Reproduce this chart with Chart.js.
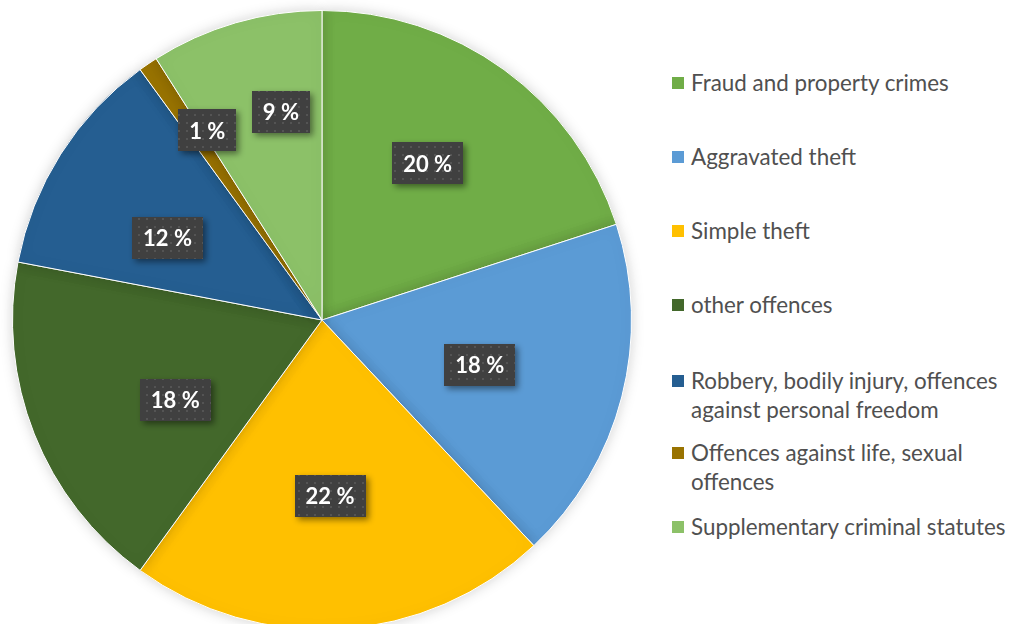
<!DOCTYPE html>
<html>
<head>
<meta charset="utf-8">
<script src="https://cdn.jsdelivr.net/npm/chart.js@4.4.1/dist/chart.umd.min.js"></script>
<style>
  html, body { margin: 0; padding: 0; background: #fff; overflow: hidden; }
  body { width: 1010px; height: 624px; position: relative; }
  #pieWrap { position: absolute; left: 0; top: 0; width: 644px; height: 640px; }
  #legend { position: absolute; left: 0; top: 0; }
  .lg-item { position: absolute; left: 672px; font-family: Lato, "Open Sans", sans-serif; font-size: 22.4px; line-height: 29px; color: #505050; white-space: pre; }
  .lg-box { position: absolute; left: 0; top: 9px; width: 12px; height: 12px; }
  .lg-text { margin-left: 19px; }
</style>
</head>
<body>
<div id="pieWrap"><canvas id="pieChart"></canvas></div>
<div id="legend"></div>
<script>
// ---- Veriler ----
const categories = [
  "Fraud and property crimes",
  "Aggravated theft",
  "Simple theft",
  "other offences",
  "Robbery, bodily injury, offences\nagainst personal freedom",
  "Offences against life, sexual\noffences",
  "Supplementary criminal statutes"
];
const shares = [20, 18, 22, 18, 12, 1, 9];
const sliceColors = ["#70AD47", "#5B9BD5", "#FFC000", "#43682B", "#255E91", "#997300", "#8CC168"];

// ---- Etiket kutusu için noktalı desen ----
function makeDotPattern(ctx) {
  const tile = document.createElement("canvas");
  tile.width = 8; tile.height = 8;
  const t = tile.getContext("2d");
  t.fillStyle = "#404040";
  t.fillRect(0, 0, 8, 8);
  t.fillStyle = "#545454";
  t.fillRect(2, 2, 2, 2);
  return ctx.createPattern(tile, "repeat");
}

// etiketlerin merkezden uzaklığı (yarıçapa oran) ve açı kaydırması (derece)
const labelRadius = [0.61, 0.53, 0.57, 0.54, 0.565, 0.716, 0.684];
const labelNudge = [-2, 1.5, 1, -7, -4.5, 3, 5];

const pieShadow = {
  id: "pieShadow",
  beforeDatasetsDraw(chart) {
    const c = chart.ctx;
    c.save();
    c.shadowColor = "rgba(0,0,0,0.18)";
    c.shadowBlur = 14;
  },
  afterDatasetsDraw(chart) {
    chart.ctx.restore();
  }
};

const percentLabels = {
  id: "percentLabels",
  afterDatasetsDraw(chart) {
    const c = chart.ctx;
    const pattern = makeDotPattern(c);
    const arcs = chart.getDatasetMeta(0).data;
    c.save();
    c.font = "bold 22px Lato, 'Open Sans', sans-serif";
    c.textAlign = "center";
    c.textBaseline = "middle";
    arcs.forEach((arc, i) => {
      const p = arc.getProps(["x", "y", "startAngle", "endAngle", "outerRadius"], true);
      const mid = (p.startAngle + p.endAngle) / 2 + labelNudge[i] * Math.PI / 180;
      const r = p.outerRadius * labelRadius[i];
      const cx = p.x + Math.cos(mid) * r;
      const cy = p.y + Math.sin(mid) * r;
      const txt = shares[i] + " %";
      const w = c.measureText(txt).width + 22;
      const h = 42;
      c.shadowColor = "rgba(0,0,0,0.45)";
      c.shadowBlur = 6;
      c.shadowOffsetX = 3;
      c.shadowOffsetY = 3;
      c.fillStyle = pattern;
      c.fillRect(Math.round(cx - w / 2), Math.round(cy - h / 2), Math.round(w), h);
      c.shadowColor = "transparent";
      c.fillStyle = "#ffffff";
      c.fillText(txt, cx, cy + 1);
    });
    c.restore();
  }
};

const ctx = document.getElementById("pieChart").getContext("2d");
const pieChart = new Chart(ctx, {
  type: "pie",
  data: {
    labels: categories,
    datasets: [{
      data: shares,
      backgroundColor: sliceColors,
      borderColor: "#ffffff",
      borderWidth: 1
    }]
  },
  options: {
    responsive: true,
    maintainAspectRatio: false,
    animation: false,
    layout: { padding: { left: 12, right: 12, top: 10, bottom: 10 } },
    plugins: {
      legend: { display: false },
      tooltip: { enabled: false }
    }
  },
  plugins: [pieShadow, percentLabels]
});

// ---- Legend ----
const legendTops = [68, 142, 216, 290, 366, 438, 512];
const legendEl = document.getElementById("legend");
categories.forEach((name, i) => {
  const item = document.createElement("div");
  item.className = "lg-item";
  item.style.top = legendTops[i] + "px";
  const box = document.createElement("div");
  box.className = "lg-box";
  box.style.background = sliceColors[i];
  const text = document.createElement("div");
  text.className = "lg-text";
  text.textContent = name;
  item.appendChild(box);
  item.appendChild(text);
  legendEl.appendChild(item);
});
</script>
</body>
</html>
